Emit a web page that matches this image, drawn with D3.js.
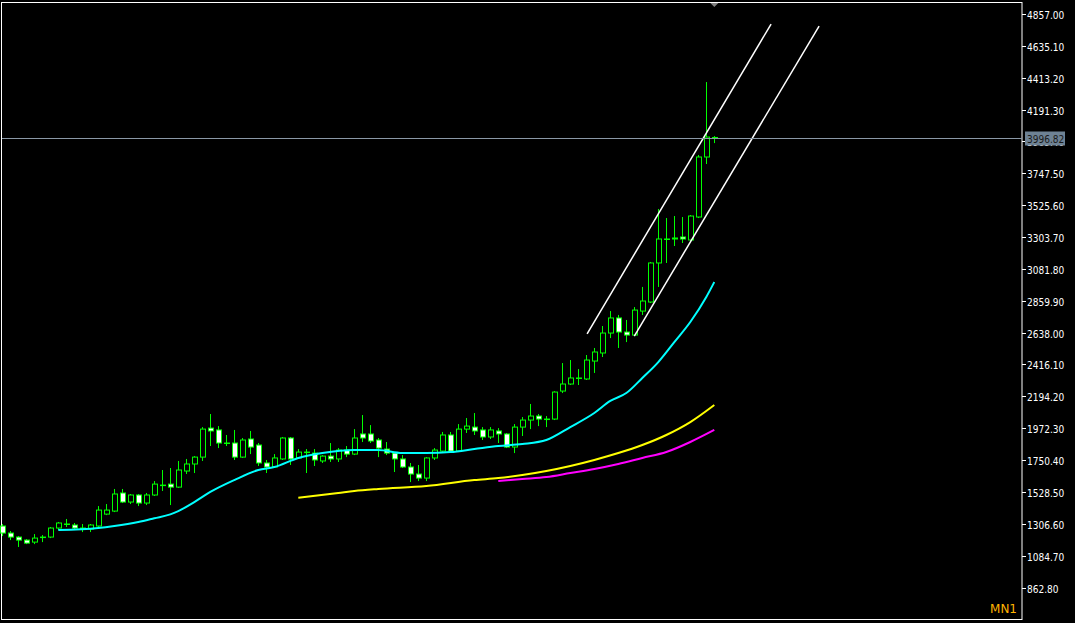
<!DOCTYPE html>
<html><head><meta charset="utf-8">
<script src="https://cdn.jsdelivr.net/npm/d3@7"></script>
<style>html,body{margin:0;padding:0;background:#000;overflow:hidden}</style>
</head><body>
<script>
const opens  = [1291,1242,1214,1193,1179,1214,1214,1277,1305,1298,1277,1270,1291,1374,1395,1521,1458,1507,1451,1507,1576,1583,1562,1674,1723,1771,1973,1960,1869,1869,1771,1897,1855,1730,1702,1758,1904,1765,1806,1799,1744,1778,1758,1820,1792,1932,1932,1890,1827,1799,1758,1702,1653,1625,1765,1813,1925,1813,1966,1980,1960,1911,1953,1932,1841,1980,2029,2057,2036,2036,2231,2280,2322,2315,2440,2496,2635,2740,2642,2621,2788,2851,3123,3290,3290,3304,3283,3443,3861,3993];
const highs  = [1305,1256,1221,1200,1235,1228,1284,1319,1340,1312,1305,1305,1430,1444,1549,1549,1514,1514,1521,1604,1681,1695,1744,1758,1778,1980,2071,1987,1925,1960,1904,1953,1869,1751,1792,1911,1911,1827,1827,1827,1785,1869,1834,1848,1966,2064,1994,1904,1876,1799,1785,1730,1716,1771,1834,1946,1946,2001,2043,2078,1980,1980,1973,1939,2001,2050,2141,2071,2057,2230,2426,2447,2384,2482,2531,2684,2788,2761,2726,2816,2956,3130,3499,3436,3450,3443,3457,3875,4383,4007];
const lows   = [1221,1193,1145,1165,1165,1179,1207,1263,1284,1263,1249,1249,1284,1367,1388,1451,1444,1430,1437,1500,1535,1437,1556,1653,1660,1744,1848,1834,1848,1751,1765,1792,1709,1660,1695,1751,1716,1758,1660,1709,1730,1737,1737,1771,1785,1876,1869,1771,1785,1667,1695,1597,1604,1604,1751,1806,1806,1806,1939,1925,1890,1897,1869,1834,1799,1918,1966,1987,1980,2029,2217,2273,2273,2308,2357,2468,2600,2531,2572,2614,2761,2844,2956,3123,3241,3262,3276,3436,3812,3958];
const closes = [1242,1214,1193,1172,1207,1214,1277,1312,1305,1277,1277,1298,1402,1402,1514,1458,1507,1451,1507,1583,1576,1562,1681,1723,1771,1966,1953,1869,1869,1771,1890,1841,1730,1702,1765,1904,1758,1806,1806,1751,1778,1758,1820,1792,1904,1904,1883,1834,1799,1758,1702,1653,1625,1765,1820,1925,1813,1966,1987,1953,1911,1960,1932,1841,1980,2029,2057,2036,2036,2224,2280,2322,2322,2447,2503,2635,2740,2642,2621,2795,2858,3123,3290,3290,3297,3290,3450,3861,4000,3997];

const cyanIdx = [7,12,14,17,19,21,22,24,26,29,32,34,37,40,44,47,50,53,56,59,62,65,68,71,74,76,78,80,82,84,86,88,89];
const cyanVal = [1263,1277,1291,1319,1345,1372,1395,1458,1528,1611,1681,1702,1765,1799,1820,1820,1799,1799,1806,1827,1848,1862,1890,1980,2078,2162,2217,2322,2433,2572,2712,2886,2990];
const yellowIdx = [37,42,44,47,53,59,62,65,68,71,74,77,80,83,86,89];
const yellowVal = [1488,1521,1535,1549,1569,1611,1625,1646,1674,1709,1751,1799,1855,1925,2015,2134];
const magentaIdx = [62,65,68,71,74,77,80,83,86,89];
const magentaVal = [1604,1618,1632,1660,1688,1723,1765,1806,1876,1960];

const channelA = [[73.1,2630],[96.1,4787]];
const channelB = [[79.0,2614],[102.1,4773]];
const currentPrice = 3996.82;
const tickLabels = ["4857.00","4635.10","4413.20","4191.30","3969.40","3747.50","3525.60","3303.70","3081.80","2859.90","2638.00","2416.10","2194.20","1972.30","1750.40","1528.50","1306.60","1084.70","862.80"];

const W=1075,H=623;
const svg=d3.select("body").append("svg").attr("width",W).attr("height",H).style("background","#000").style("display","block");
const x=d3.scaleLinear().domain([0,89]).range([2.3,714.3]);
const y=d3.scaleLinear().domain([862.8,4857]).range([587.5,14]);
const plotR=1022;

svg.append("rect").attr("x",1.5).attr("y",2.5).attr("width",plotR-1.5).attr("height",617).attr("fill","none").attr("stroke","#ffffff").attr("stroke-width",1);

const g=svg.append("g");
const idx=d3.range(opens.length);
g.selectAll("line.w").data(idx).join("line")
 .attr("x1",i=>Math.round(x(i))+0.5).attr("x2",i=>Math.round(x(i))+0.5)
 .attr("y1",i=>y(highs[i])).attr("y2",i=>y(lows[i])).attr("stroke","#00ff00").attr("stroke-width",1);
g.selectAll("rect.b").data(idx).join("rect")
 .attr("x",i=>Math.round(x(i))-2+0.5).attr("width",5)
 .attr("y",i=>y(Math.max(opens[i],closes[i]))).attr("height",i=>Math.max(0.5,Math.abs(y(opens[i])-y(closes[i]))))
 .attr("fill",i=>closes[i]<opens[i]?"#ffffff":"#000000").attr("stroke","#00ff00").attr("stroke-width",1);

function ma(ix,vals,color){
  const pts=ix.map((d,k)=>[x(d),y(vals[k])]);
  g.append("path").attr("d",d3.line().curve(d3.curveMonotoneX)(pts)).attr("fill","none").attr("stroke",color).attr("stroke-width",2);
}
ma(cyanIdx,cyanVal,"#00ffff");
ma(yellowIdx,yellowVal,"#ffff00");
ma(magentaIdx,magentaVal,"#ff00ff");

[channelA,channelB].forEach(c=>{
  g.append("line").attr("x1",x(c[0][0])).attr("y1",y(c[0][1])).attr("x2",x(c[1][0])).attr("y2",y(c[1][1])).attr("stroke","#ffffff").attr("stroke-width",1.5);
});

const cy=Math.round(y(currentPrice))+0.5;
svg.append("line").attr("x1",2).attr("x2",plotR).attr("y1",cy).attr("y2",cy).attr("stroke","#8a98a6").attr("stroke-width",1);

const ax=svg.append("g");
tickLabels.forEach(t=>{
  const v=+t, yy=Math.round(y(v))+0.5;
  ax.append("line").attr("x1",plotR).attr("x2",plotR+4).attr("y1",yy).attr("y2",yy).attr("stroke","#fff");
  ax.append("text").attr("x",plotR+5).attr("y",yy+4).text(t).attr("fill","#ffffff").attr("font-family","DejaVu Sans Condensed, DejaVu Sans").attr("font-size",10);
});
ax.append("rect").attr("x",plotR+3).attr("y",cy-7).attr("width",40).attr("height",14).attr("fill","#6e8294");
ax.append("text").attr("x",plotR+5).attr("y",cy+4).text(currentPrice.toFixed(2)).attr("fill","#1a1a1a").attr("font-family","DejaVu Sans Condensed, DejaVu Sans").attr("font-size",10);

svg.append("path").attr("d",`M${x(89)-4},3 L${x(89)+4},3 L${x(89)},7 Z`).attr("fill","#808080");
svg.append("text").attr("x",1017).attr("y",613).attr("text-anchor","end").text("MN1").attr("fill","#ffb400").attr("font-family","DejaVu Sans, sans-serif").attr("font-size",12);
</script>
</body></html>
